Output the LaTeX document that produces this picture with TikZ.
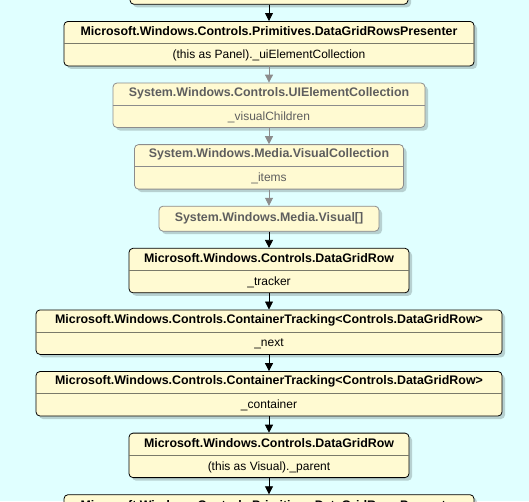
\documentclass[tikz,border=0pt]{standalone}
\usepackage{fontspec}
\setmainfont{Liberation Sans}
\usetikzlibrary{positioning,shadows,arrows.meta}
\definecolor{bgcyan}{HTML}{E0FFFF}
\definecolor{boxfill}{HTML}{FFFAD2}
\definecolor{splitgray}{HTML}{7A7A6A}
\definecolor{dimtext}{HTML}{5E5E5E}
\definecolor{dimline}{HTML}{8C8C8C}
\tikzstyle{block} = [draw, fill=boxfill, rectangle, rounded corners=4pt,
    minimum height=44.5pt, line width=0.8pt,
    drop shadow={shadow xshift=3pt, shadow yshift=-3pt, fill=black, opacity=0.18}]
\tikzstyle{flat} = [block, minimum height=25pt]
\tikzstyle{dim} = [draw=dimline]
\tikzstyle{title} = [font=\bfseries\fontsize{12.4}{14}\selectfont]
\tikzstyle{field} = [font=\fontsize{12}{14}\selectfont]
\tikzstyle{split} = [draw=splitgray, line width=0.8pt]
\tikzstyle{link} = [-{Triangle[length=8pt,width=8pt]}, line width=0.8pt]

\begin{document}
\begin{tikzpicture}[node distance=16.3pt]
    \useasboundingbox (0,0) rectangle (529pt,-501pt);
    \clip (0,0) rectangle (529pt,-501pt);
    \fill [bgcyan] (0,0) rectangle (529pt,-501pt);

    % the boxes, top to bottom
    \node [block, minimum width=410pt, anchor=north] (presenter) at (269pt,-21pt) {};
    \node [block, minimum width=278pt, above=of presenter] (prevrow) {};
    \node [block, dim, minimum width=312pt, below=of presenter] (uicoll) {};
    \node [block, dim, minimum width=269pt, below=of uicoll] (viscoll) {};
    \node [flat, dim, minimum width=220pt, below=of viscoll] (visarray) {};
    \node [block, minimum width=280pt, below=of visarray] (row) {};
    \node [block, minimum width=466pt, below=of row] (tracknext) {};
    \node [block, minimum width=466pt, below=of tracknext] (trackcont) {};
    \node [block, minimum width=280pt, below=of trackcont] (rowparent) {};
    \node [block, minimum width=410pt, below=of rowparent] (presenterb) {};

    % dividers
    \draw [split] (presenter.west) -- (presenter.east);
    \draw [split, dimline] (uicoll.west) -- (uicoll.east);
    \draw [split, dimline] (viscoll.west) -- (viscoll.east);
    \draw [split] (row.west) -- (row.east);
    \draw [split] (tracknext.west) -- (tracknext.east);
    \draw [split] (trackcont.west) -- (trackcont.east);
    \draw [split] (rowparent.west) -- (rowparent.east);
    \draw [split] (presenterb.west) -- (presenterb.east);

    % texts
    \node [title] (presentertitle) at ([yshift=-10.5pt]presenter.north) {Microsoft.Windows.Controls.Primitives.DataGridRowsPresenter};
    \node [field] (presenterfield) at ([yshift=11pt]presenter.south) {(this as Panel).\_uiElementCollection};
    \node [title, dimtext] (uicolltitle) at ([yshift=-10.5pt]uicoll.north) {System.Windows.Controls.UIElementCollection};
    \node [field, dimtext] (uicollfield) at ([yshift=11pt]uicoll.south) {\_visualChildren};
    \node [title, dimtext] (viscolltitle) at ([yshift=-10.5pt]viscoll.north) {System.Windows.Media.VisualCollection};
    \node [field, dimtext] (viscollfield) at ([yshift=11pt]viscoll.south) {\_items};
    \node [title, dimtext] (visarraytitle) at (visarray) {System.Windows.Media.Visual[]};
    \node [title] (rowtitle) at ([yshift=-10.5pt]row.north) {Microsoft.Windows.Controls.DataGridRow};
    \node [field] (rowfield) at ([yshift=11pt]row.south) {\_tracker};
    \node [title] (tracknexttitle) at ([yshift=-10.5pt]tracknext.north) {Microsoft.Windows.Controls.ContainerTracking<Controls.DataGridRow>};
    \node [field] (tracknextfield) at ([yshift=11pt]tracknext.south) {\_next};
    \node [title] (trackconttitle) at ([yshift=-10.5pt]trackcont.north) {Microsoft.Windows.Controls.ContainerTracking<Controls.DataGridRow>};
    \node [field] (trackcontfield) at ([yshift=11pt]trackcont.south) {\_container};
    \node [title] (rowparenttitle) at ([yshift=-10.5pt]rowparent.north) {Microsoft.Windows.Controls.DataGridRow};
    \node [field] (rowparentfield) at ([yshift=11pt]rowparent.south) {(this as Visual).\_parent};
    \node [title] (presenterbtitle) at ([yshift=-10.5pt]presenterb.north) {Microsoft.Windows.Controls.Primitives.DataGridRowsPresenter};

    % connectors
    \draw [link] (prevrow) -- (presenter);
    \draw [link, dimline] (presenter) -- (uicoll);
    \draw [link, dimline] (uicoll) -- (viscoll);
    \draw [link, dimline] (viscoll) -- (visarray);
    \draw [link] (visarray) -- (row);
    \draw [link] (row) -- (tracknext);
    \draw [link] (tracknext) -- (trackcont);
    \draw [link] (trackcont) -- (rowparent);
    \draw [link] (rowparent) -- (presenterb);
\end{tikzpicture}
\end{document}
